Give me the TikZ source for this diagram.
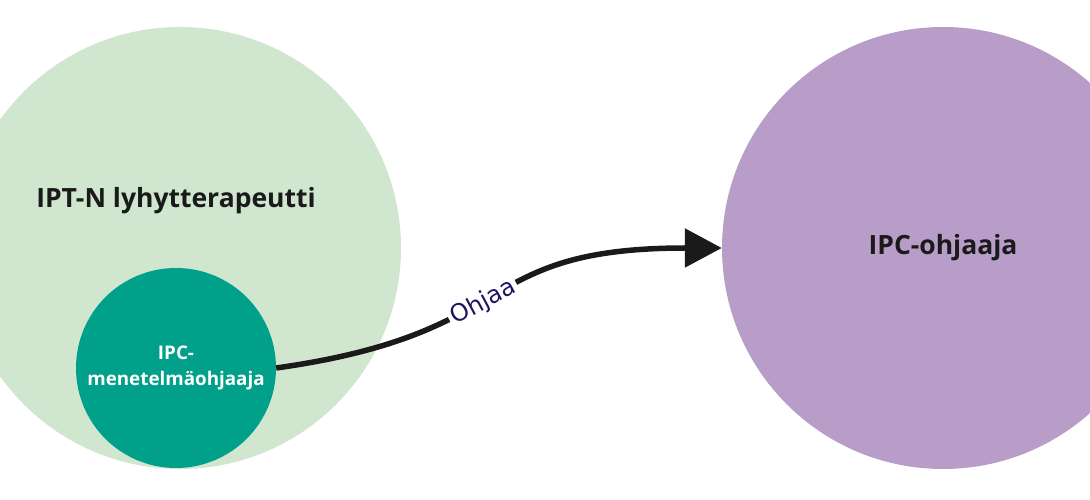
\documentclass[tikz,border=0pt]{standalone}
\usepackage{fontspec}
\setmainfont{Open Sans}
\newfontfamily\labelfont{DejaVu Sans}
\usetikzlibrary{arrows.meta,positioning,calc}

\definecolor{iptgreen}{HTML}{D0E6CF}
\definecolor{methodteal}{HTML}{00A08A}
\definecolor{ipcpurple}{HTML}{B99DC9}
\definecolor{darktext}{HTML}{1A1A1A}
\definecolor{labelnavy}{HTML}{1E1660}

\begin{document}
\begin{tikzpicture}[x=1pt,y=1pt,
    disc/.style={circle,inner sep=0pt,minimum size=442pt},
    small/.style={circle,inner sep=0pt,minimum size=200pt,fill=methodteal,
      text=white,align=center,font=\bfseries\fontsize{18.8}{26}\selectfont},
    title/.style={text=darktext,font=\bfseries\fontsize{26.5}{31}\selectfont},
    flow/.style={-{Triangle[length=37pt,width=38pt]},line width=5.5pt,draw=darktext},
    tag/.style={fill=white,sloped,text=labelnavy,inner sep=3pt,
      font=\labelfont\fontsize{24}{28}\selectfont}
  ]
    \useasboundingbox (0,0) rectangle (1090,500);
    \node[disc,fill=iptgreen] (ipt) at (180,252) {};
    \node[title] (iptname) at (176,299) {IPT-N lyhytterapeutti};
    \node[small] (method) at (176,132) {IPC-\\menetelmäohjaaja};
    \node[disc,fill=ipcpurple,title] (ipc) at (943,252) {IPC-ohjaaja};
    \draw[flow] (method.east) to[out=8,in=180,looseness=1.4]
      node[tag,pos=0.45] {Ohjaa} (ipc.west);
  \end{tikzpicture}
\end{document}
